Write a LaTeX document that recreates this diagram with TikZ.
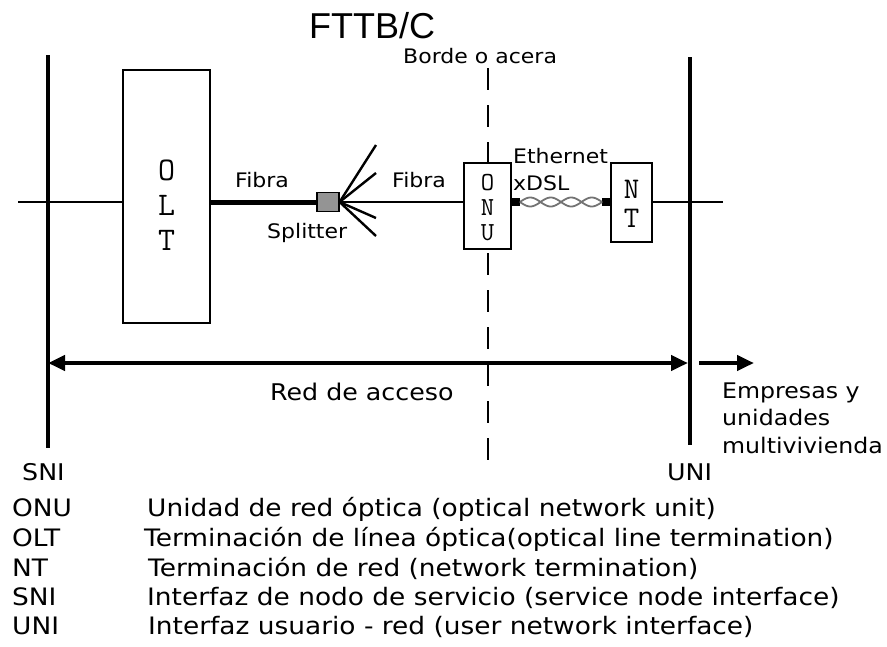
\documentclass[tikz,border=0pt]{standalone}
\usepackage{fontspec}
\usetikzlibrary{arrows.meta}
\newfontfamily\titlefont{Liberation Sans}
\newfontfamily\labfont{DejaVu Sans}[FakeStretch=1.1]
\begin{document}
\begin{tikzpicture}[x=1pt,y=-1pt,
  lab/.style={inner sep=0pt, anchor=base west, font=\labfont\fontsize{20}{24}\selectfont},
  emp/.style={lab, font=\labfont\fontsize{21.5}{26}\selectfont},
  big/.style={lab, font=\labfont\fontsize{23}{27}\selectfont},
  leg/.style={lab, font=\labfont\fontsize{24}{28}\selectfont},
  boxnode/.style={draw, line width=2.8pt, fill=white, inner sep=0pt},
  iface/.style={line width=3.2pt},
  thinl/.style={line width=2.4pt},
  tri/.tip={Triangle[length=17pt,width=15pt]},
  arr/.style={line width=4.2pt}
]
\useasboundingbox (0,0) rectangle (887,646);
% dashed border line
\coordinate (d1) at (488,68);
\coordinate (d2) at (488,465);
\draw[line width=2.2pt, dash pattern=on 22pt off 15pt] (d1) -- (d2);
% interface lines
\coordinate (s1) at (48,55);
\coordinate (s2) at (48,448);
\coordinate (u1) at (690,57);
\coordinate (u2) at (690,445);
\draw[iface] (s1) -- (s2);
\draw[iface] (u1) -- (u2);
% boxes
\node[boxnode, minimum width=87pt, minimum height=253pt] (olt) at (166.5,196.5) {};
\node[boxnode, minimum width=47pt, minimum height=86pt] (onu) at (487.5,206) {};
\node[boxnode, minimum width=41pt, minimum height=79pt] (nt) at (631.5,202.5) {};
\node[draw, line width=1.2pt, fill=black!42, minimum width=22pt, minimum height=19pt, inner sep=0pt] (spl) at (328,202) {};
% letters
\node[inner sep=0pt, align=center, font=\ttfamily\fontsize{33}{35}\selectfont] (oltlab) at (166.5,205) {O\\L\\T};
\node[inner sep=0pt, align=center, font=\ttfamily\fontsize{26}{25}\selectfont] (onulab) at (487.5,208) {O\\N\\U};
\node[inner sep=0pt, align=center, font=\ttfamily\fontsize{30}{29}\selectfont] (ntlab) at (631.5,203.5) {N\\T};
% horizontal line
\coordinate (hl) at (18,202);
\coordinate (hr) at (723,202);
\draw[thinl] (hl) -- (hl -| olt.west);
\draw[line width=5pt] (olt.east |- hl) -- (spl.west);
\draw[thinl] (spl.east) -- (onu.west |- hl);
\draw[thinl] (nt.east |- hl) -- (hr);
% fan
\coordinate (f1) at (376,145);
\coordinate (f2) at (376,173);
\coordinate (f3) at (376,218);
\coordinate (f4) at (376,236);
\foreach \f in {f1,f2,f3,f4} \draw[thinl] (spl.east) -- (\f);
% ethernet twisted pair
\node[fill, minimum size=8pt, inner sep=0pt] (sq1) at (516,202) {};
\node[fill, minimum size=8pt, inner sep=0pt] (sq2) at (606,202) {};
\draw[line width=1.8pt, black!55] plot[domain=0:82, samples=80] ({520+\x}, {202+4.5*sin(\x*180/20.5)});
\draw[line width=1.8pt, black!55] plot[domain=0:82, samples=80] ({520+\x}, {202-4.5*sin(\x*180/20.5)});
% arrows
\coordinate (a1) at (48,363);
\coordinate (a2) at (688,363);
\coordinate (b1) at (699,363);
\coordinate (b2) at (754,363);
\draw[arr, tri-tri] (a1) -- (a2);
\draw[arr, -tri] (b1) -- (b2);
% labels
\node[inner sep=0pt, anchor=base west, font=\titlefont\fontsize{36}{40}\selectfont] (title) at (309,38) {FTTB/C};
\node[lab] (borde) at (403,63) {Borde o acera};
\node[lab] (fibra1) at (235,187) {Fibra};
\node[lab] (fibra2) at (392,187) {Fibra};
\node[lab] (splitter) at (267,238) {Splitter};
\node[lab] (eth) at (513,163) {Ethernet};
\node[lab] (xdsl) at (513,190) {xDSL};
\node[big] (red) at (270,400) {Red de acceso};
\node[emp] (emp1) at (722,398) {Empresas y};
\node[emp] (emp2) at (722,425) {unidades};
\node[emp] (emp3) at (722,453) {multivivienda};
\node[big] (sni) at (22,480) {SNI};
\node[big] (uni) at (667,480) {UNI};
% legend
\node[leg] (k1) at (12,516) {ONU};
\node[leg] (v1) at (147,516) {Unidad de red óptica (optical network unit)};
\node[leg] (k2) at (12,546) {OLT};
\node[leg] (v2) at (144,546) {Terminación de línea óptica(optical line termination)};
\node[leg] (k3) at (12,576) {NT};
\node[leg] (v3) at (148,576) {Terminación de red (network termination)};
\node[leg] (k4) at (12,605) {SNI};
\node[leg] (v4) at (147,605) {Interfaz de nodo de servicio (service node interface)};
\node[leg] (k5) at (12,634) {UNI};
\node[leg] (v5) at (148,634) {Interfaz usuario - red (user network interface)};
\end{tikzpicture}
\end{document}
